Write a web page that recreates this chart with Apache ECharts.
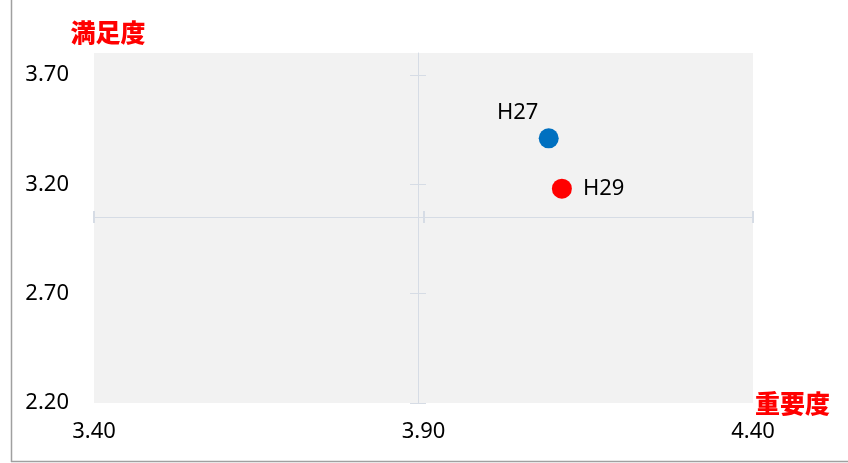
<!DOCTYPE html>
<html lang="ja">
<head>
    <meta charset="UTF-8">
    <title>重要度・満足度</title>
    <script src="https://cdn.jsdelivr.net/npm/echarts@6/dist/echarts.min.js"></script>
    <style>
        body { margin: 0; background: #fff; }
        #main { width: 848px; height: 463px; }
    </style>
</head>
<body>
    <div id="main"></div>
    <script>
        // データ
        var seriesNames = ['H27', 'H29'];
        var importance = [4.09, 4.11];   // 重要度 (x)
        var satisfaction = [3.41, 3.18]; // 満足度 (y)
        var xTicks = [3.40, 3.90, 4.40];
        var yTicks = [2.20, 2.70, 3.20, 3.70];
        var colors = ['#0070C0', '#FF0000'];

        var lineColor = '#D6DCE5';
        var labelFont = { fontSize: 22, color: '#000', fontFamily: 'Noto Sans' };
        var nameFont = { color: '#FF0000', fontWeight: 900, fontSize: 25, fontFamily: 'Noto Sans CJK JP' };

        var myChart = echarts.init(document.getElementById('main'));

        // 十字の線（中心軸）
        function crossX(inside) {
            return {
                type: 'value', min: 3.4, max: 4.4, position: 'bottom', offset: -186,
                axisLine: { show: inside, onZero: false, lineStyle: { color: lineColor, width: 1 } },
                axisTick: { show: true, inside: inside, length: 6, customValues: xTicks, lineStyle: { color: lineColor, width: 2 } },
                axisLabel: { show: false }, splitLine: { show: false }
            };
        }
        function crossY(inside) {
            return {
                type: 'value', min: 2.2, max: 3.8, position: 'left', offset: -324,
                axisLine: { show: inside, onZero: false, lineStyle: { color: lineColor, width: 1 } },
                axisTick: { show: true, inside: inside, length: 8, customValues: yTicks, lineStyle: { color: lineColor, width: 1 } },
                axisLabel: { show: false }, splitLine: { show: false }
            };
        }

        var option = {
            animation: false,
            backgroundColor: '#fff',
            graphic: [
                { type: 'line', shape: { x1: 11.5, y1: 0, x2: 11.5, y2: 462 }, style: { stroke: '#A0A0A0', lineWidth: 1.5 } },
                { type: 'line', shape: { x1: 11, y1: 461.5, x2: 848, y2: 461.5 }, style: { stroke: '#A0A0A0', lineWidth: 1.5 } }
            ],
            grid: {
                left: 94, right: 95, top: 53, bottom: 60,
                show: true, backgroundColor: '#F2F2F2', borderWidth: 0
            },
            xAxis: [{
                type: 'value', min: 3.4, max: 4.4,
                name: '重要度', nameLocation: 'end', nameGap: 2,
                nameTextStyle: Object.assign({ padding: [6, 0, 0, 0] }, nameFont),
                axisLine: { show: false }, axisTick: { show: false }, splitLine: { show: false },
                axisLabel: Object.assign({ margin: 18, customValues: xTicks, formatter: function (v) { return v.toFixed(2); } }, labelFont)
            }, crossX(true), crossX(false)],
            yAxis: [{
                type: 'value', min: 2.2, max: 3.8,
                name: '満足度', nameLocation: 'end', nameGap: 8,
                nameTextStyle: Object.assign({ padding: [0, 0, 0, 28] }, nameFont),
                axisLine: { show: false }, axisTick: { show: false }, splitLine: { show: false },
                axisLabel: Object.assign({ margin: 25, customValues: yTicks, formatter: function (v) { return v.toFixed(2); } }, labelFont)
            }, crossY(true), crossY(false)],
            series: [{
                name: seriesNames[0], type: 'scatter', symbolSize: 20,
                itemStyle: { color: colors[0], opacity: 1 },
                data: [[importance[0], satisfaction[0]]],
                label: Object.assign({ show: true, formatter: seriesNames[0], position: 'top', distance: 5, offset: [-31, 0] }, labelFont)
            }, {
                name: seriesNames[1], type: 'scatter', symbolSize: 20,
                itemStyle: { color: colors[1], opacity: 1 },
                data: [[importance[1], satisfaction[1]]],
                label: Object.assign({ show: true, formatter: seriesNames[1], position: 'right', distance: 11 }, labelFont)
            }]
        };

        myChart.setOption(option);
    </script>
</body>
</html>
